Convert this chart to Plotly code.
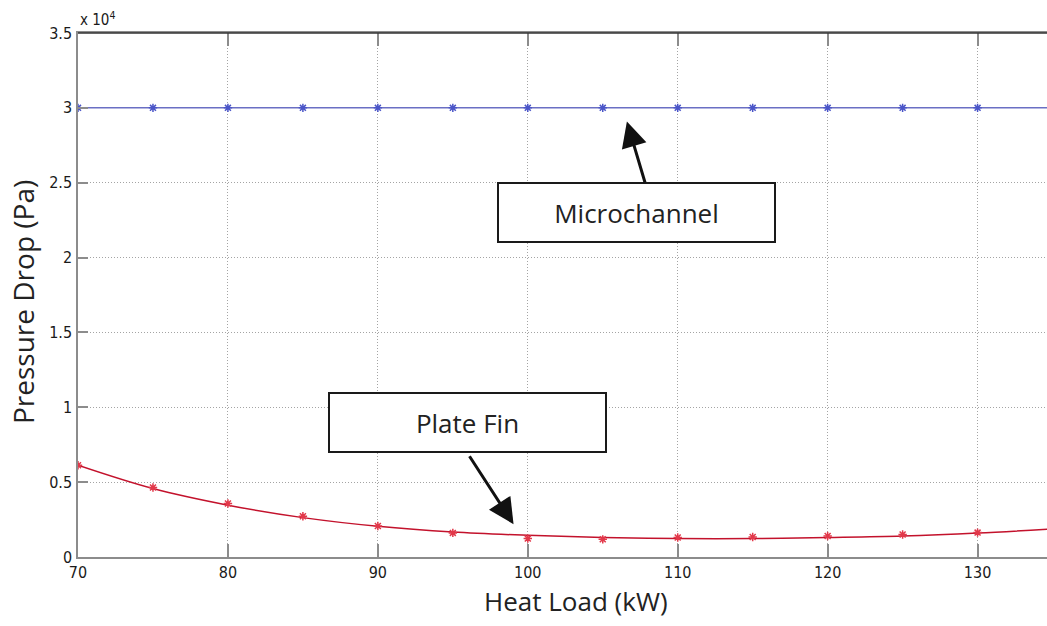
import plotly.graph_objects as go

# Heat load sample points (kW)
heat_load_kw = [70, 75, 80, 85, 90, 95, 100, 105, 110, 115, 120, 125, 130]

# Measured pressure drop (Pa)
microchannel_pa = [30000] * 13
plate_fin_pa = [6130, 4640, 3570, 2720, 2070, 1610, 1230, 1180, 1300, 1340, 1400, 1500, 1630]

# Fitted curves (Pa), evaluated every 5 kW out to 135 kW
fit_load_kw = [70, 75, 80, 85, 90, 95, 100, 105, 110, 115, 120, 125, 130, 135]
microchannel_fit_pa = [30000] * 14
plate_fin_fit_pa = [6130, 4570, 3460, 2630, 2050, 1670, 1450, 1300, 1230, 1230, 1300, 1400, 1600, 1880]

# Axis ticks
x_ticks = [70, 80, 90, 100, 110, 120, 130]
y_ticks = [0, 5000, 10000, 15000, 20000, 25000, 30000, 35000]
y_tick_text = ["0", "0.5", "1", "1.5", "2", "2.5", "3", "3.5"]

BLUE_LINE = "#6a6fc4"
BLUE_MARK = "#4a55c8"
RED_LINE = "#c3122c"
RED_MARK = "#e2384a"
AXIS_GREY = "#8c8c8c"
GRID_GREY = "#a4a4a4"
TICK_FONT = dict(family="Liberation Sans Narrow, Arial Narrow, DejaVu Sans Condensed, Liberation Sans, sans-serif",
                 size=16, color="#1a1a1a")
LABEL_FONT = dict(family="Open Sans, sans-serif", size=26, color="#222222")

fig = go.Figure()

fig.add_trace(go.Scatter(x=fit_load_kw, y=microchannel_fit_pa, mode="lines",
                         line=dict(color=BLUE_LINE, width=1.5), hoverinfo="skip"))
fig.add_trace(go.Scatter(x=heat_load_kw, y=microchannel_pa, mode="markers",
                         marker=dict(symbol="asterisk-open", size=7, color=BLUE_MARK,
                                     line=dict(color=BLUE_MARK, width=1.5))))

fig.add_trace(go.Scatter(x=fit_load_kw, y=plate_fin_fit_pa, mode="lines",
                         line=dict(color=RED_LINE, width=1.5, shape="spline"), hoverinfo="skip"))
fig.add_trace(go.Scatter(x=heat_load_kw, y=plate_fin_pa, mode="markers",
                         marker=dict(symbol="asterisk-open", size=7, color=RED_MARK,
                                     line=dict(color=RED_MARK, width=1.5))))

fig.update_layout(
    width=1047, height=626,
    margin=dict(l=77.5, r=0, t=33, b=69),
    paper_bgcolor="white", plot_bgcolor="white",
    showlegend=False,
    xaxis=dict(range=[70, 134.63], tickvals=x_ticks, ticks="inside", ticklen=13,
               tickcolor=AXIS_GREY, tickwidth=1.5, showline=True, linecolor=AXIS_GREY,
               linewidth=1.5, mirror="ticks", showgrid=True, gridcolor=GRID_GREY,
               griddash="1px,2px", gridwidth=1, zeroline=False, tickfont=TICK_FONT),
    yaxis=dict(range=[0, 35000], tickvals=y_ticks, ticktext=y_tick_text, ticks="inside",
               ticklen=10, tickcolor=AXIS_GREY, tickwidth=1.5, showline=True,
               linecolor=AXIS_GREY, linewidth=1.5, showgrid=True, gridcolor=GRID_GREY,
               griddash="1px,2px", gridwidth=1, zeroline=False, tickfont=TICK_FONT,
               ticklabelstandoff=1),
)

# Dark top border of the axes box
fig.add_shape(type="line", xref="paper", yref="paper", x0=0, x1=1, y0=1, y1=1,
              line=dict(color="#333333", width=1.5))

# Exponent marker for the y axis
fig.add_annotation(xref="paper", yref="paper", x=0, y=1, xanchor="left", yanchor="bottom",
                   yshift=2, text="x 10<sup>4</sup>", showarrow=False,
                   font=dict(family=TICK_FONT["family"], size=15, color="#1a1a1a"))

# Axis titles
fig.add_annotation(xref="paper", yref="paper", x=(576 - 77.5) / 969.5, y=0,
                   yshift=-44, xanchor="center", yanchor="middle",
                   text="Heat Load (kW)", showarrow=False, font=LABEL_FONT)
fig.add_annotation(xref="paper", yref="paper", x=0, xshift=-55, y=(557 - 302) / 524,
                   xanchor="center", yanchor="middle", textangle=-90,
                   text="Pressure Drop (Pa)", showarrow=False,
                   font=dict(family=LABEL_FONT["family"], size=28, color=LABEL_FONT["color"]))

# Callout boxes
box_style = dict(showarrow=False, bgcolor="white", bordercolor="#1a1a1a", borderwidth=2,
                 borderpad=0, width=275, height=57, font=LABEL_FONT, align="center",
                 valign="middle", xanchor="center", yanchor="middle")
fig.add_annotation(x=107.28, y=23040, text="Microchannel", **box_style)
fig.add_annotation(x=95.97, y=8960, text="Plate Fin", **box_style)

# Arrows from the boxes to the curves
arrow_style = dict(text=" ", showarrow=True, arrowhead=2, arrowsize=1.7, arrowwidth=3,
                   arrowcolor="#111111", axref="pixel", ayref="pixel",
                   font=dict(size=2))
fig.add_annotation(x=106.61, y=29090, ax=19, ay=64, **arrow_style)
fig.add_annotation(x=99.05, y=2190, ax=-46, ay=-71, **arrow_style)

fig.write_html("out.html")
